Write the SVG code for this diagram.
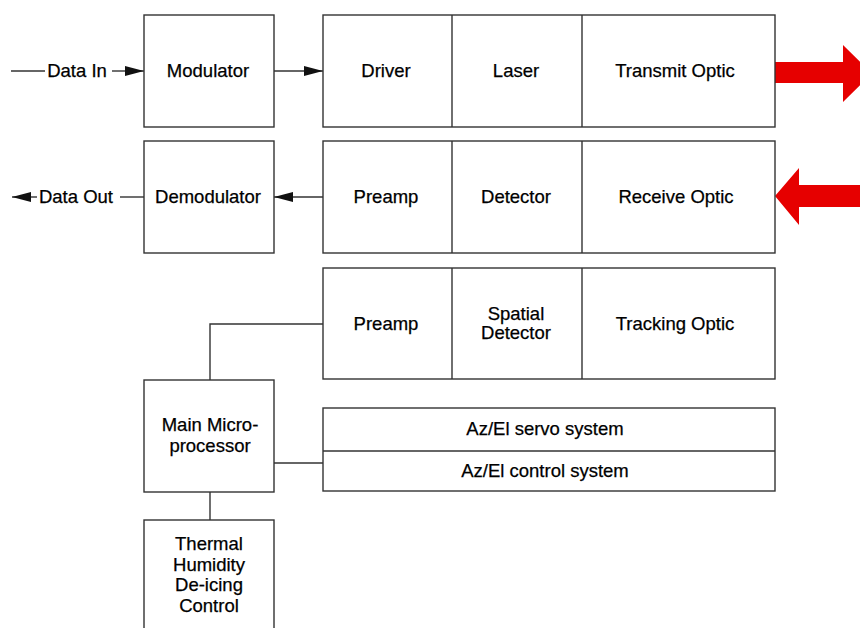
<svg xmlns="http://www.w3.org/2000/svg" width="860" height="628" viewBox="0 0 860 628">
<defs>
<style>
.box{fill:#fff;stroke:#333;stroke-width:1.4}
.ln{fill:none;stroke:#333;stroke-width:1.4}
.t{font-family:"Liberation Sans",Arial,sans-serif;font-size:18.5px;fill:#000;stroke:#000;stroke-width:0.25;text-anchor:middle}
.red{fill:#e60000}
</style>
<marker id="ah" viewBox="0 0 19 10" refX="19" refY="5" markerWidth="19" markerHeight="10" markerUnits="userSpaceOnUse" orient="auto">
<path d="M0,0 L19,5 L0,10 Z" fill="#111"/>
</marker>
</defs>
<rect width="860" height="628" fill="#fff"/>
<g id="connectors">
<line class="ln" x1="11" y1="71" x2="45" y2="71"/>
<line class="ln" x1="112" y1="71" x2="144" y2="71" marker-end="url(#ah)"/>
<line class="ln" x1="274" y1="71" x2="323" y2="71" marker-end="url(#ah)"/>
<line class="ln" x1="37" y1="197" x2="12" y2="197" marker-end="url(#ah)"/>
<line class="ln" x1="120" y1="197" x2="144" y2="197"/>
<line class="ln" x1="323" y1="197" x2="274" y2="197" marker-end="url(#ah)"/>
<polyline class="ln" points="323,324 210,324 210,380"/>
<line class="ln" x1="274" y1="463" x2="323" y2="463"/>
<line class="ln" x1="210" y1="492" x2="210" y2="520"/>
<polygon class="red" points="775,62 843,62 843,45 872,73.5 843,102 843,83 775,83"/>
<polygon class="red" points="775,196 799,168 799,185 862,185 862,207 799,207 799,225"/>
</g>
<g id="data-in"><text class="t" x="77" y="77">Data In</text></g>
<g id="data-out"><text class="t" x="76" y="203">Data Out</text></g>
<g id="modulator"><rect class="box" x="144" y="15" width="130" height="112"/><text class="t" x="208" y="77">Modulator</text></g>
<g id="demodulator"><rect class="box" x="144" y="141" width="130" height="112"/><text class="t" x="208" y="203">Demodulator</text></g>
<g id="transmit-chain">
<rect class="box" x="323" y="15" width="452" height="112"/>
<line class="ln" x1="452" y1="15" x2="452" y2="127"/>
<line class="ln" x1="582" y1="15" x2="582" y2="127"/>
<text class="t" x="386" y="77">Driver</text>
<text class="t" x="516" y="77">Laser</text>
<text class="t" x="675" y="77">Transmit Optic</text>
</g>
<g id="receive-chain">
<rect class="box" x="323" y="141" width="452" height="112"/>
<line class="ln" x1="452" y1="141" x2="452" y2="253"/>
<line class="ln" x1="582" y1="141" x2="582" y2="253"/>
<text class="t" x="386" y="203">Preamp</text>
<text class="t" x="516" y="203">Detector</text>
<text class="t" x="676" y="203">Receive Optic</text>
</g>
<g id="tracking-chain">
<rect class="box" x="323" y="268" width="452" height="111"/>
<line class="ln" x1="452" y1="268" x2="452" y2="379"/>
<line class="ln" x1="582" y1="268" x2="582" y2="379"/>
<text class="t" x="386" y="330">Preamp</text>
<text class="t" x="516" y="320">Spatial</text>
<text class="t" x="516" y="339">Detector</text>
<text class="t" x="675" y="330">Tracking Optic</text>
</g>
<g id="azel">
<rect class="box" x="323" y="408" width="452" height="83"/>
<line class="ln" x1="323" y1="451" x2="775" y2="451"/>
<text class="t" x="545" y="435">Az/El servo system</text>
<text class="t" x="545" y="477">Az/El control system</text>
</g>
<g id="microprocessor">
<rect class="box" x="144" y="380" width="130" height="112"/>
<text class="t" x="210" y="431">Main Micro-</text>
<text class="t" x="210" y="452">processor</text>
</g>
<g id="thermal">
<rect class="box" x="144" y="520" width="130" height="120"/>
<text class="t" x="209" y="550">Thermal</text>
<text class="t" x="209" y="570.5">Humidity</text>
<text class="t" x="209" y="591">De-icing</text>
<text class="t" x="209" y="611.5">Control</text>
</g>
</svg>
